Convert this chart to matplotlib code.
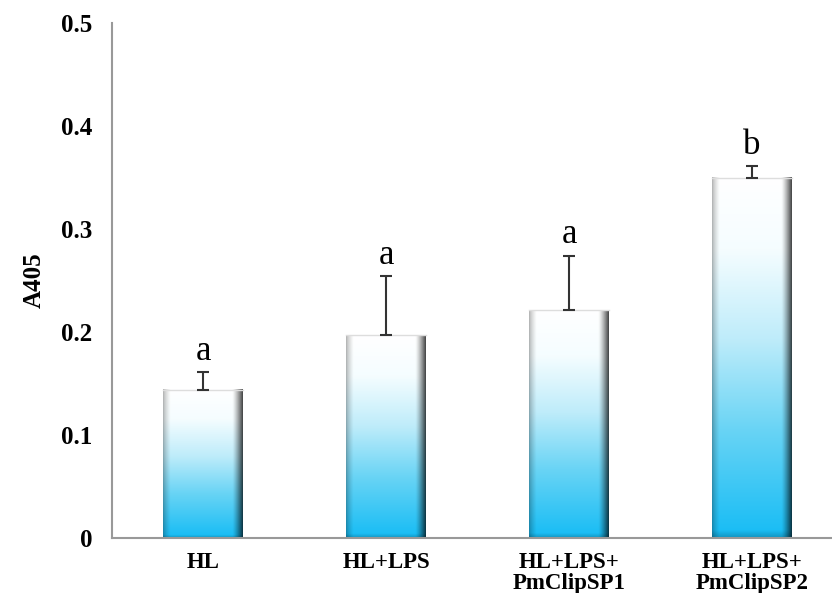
import numpy as np
import matplotlib.pyplot as plt

groups = ["HL", "HL+LPS", "HL+LPS+\nPmClipSP1", "HL+LPS+\nPmClipSP2"]
means = [0.144, 0.197, 0.221, 0.350]
errs = [0.017, 0.057, 0.053, 0.011]
letters = ["a", "a", "a", "b"]

plt.rcParams['font.family'] = ['Liberation Serif', 'DejaVu Serif']

fig = plt.figure(figsize=(8.32, 5.93), dpi=100)
# axes runs a bit past the right edge, like the original
ax = fig.add_axes([112/832, 1 - 538/593, (843.5 - 112)/832, (538 - 23)/593])

x = np.arange(len(groups))
w = 0.437

# gradient image used to fill each bar
ny, nx = 240, 120
t = np.linspace(0, 1, ny)[:, None]           # 0 bottom, 1 top
stops = np.array([0.0, 0.3, 0.55, 0.8, 1.0])
cols = np.array([[22, 188, 244], [105, 212, 245], [190, 236, 250], [245, 253, 255], [255, 255, 255]]) / 255.0
img = np.zeros((ny, nx, 3))
for c in range(3):
    img[:, :, c] = np.interp(t, stops, cols[:, c]) * np.ones((1, nx))
u = np.linspace(0, 1, nx)[None, :]
shade = np.ones((1, nx))
shade = np.where(u < 0.09, 0.7 + 0.3 * (u / 0.09) ** 0.7, shade)
shade = np.where(u > 0.87, 1 - 0.72 * ((u - 0.87) / 0.13) ** 1.3, shade)
img = img * shade[:, :, None]
# soft bevel at the bottom
vb = np.clip(t / 0.02, 0, 1)
img = img * (0.8 + 0.2 * vb[:, :, None])
img = img[::-1]  # imshow origin upper
img = np.clip(img, 0, 1)

for xi, m in zip(x, means):
    ax.imshow(img, extent=(xi - w/2, xi + w/2, 0, m), aspect='auto', zorder=2, interpolation='bilinear')
    ax.plot([xi - w/2, xi + w/2], [m, m], color='#dddddd', lw=1, zorder=2.5)

ax.errorbar(x, means, yerr=[np.zeros(len(errs)), errs], fmt='none', ecolor='#333333',
            elinewidth=1.5, capsize=4, capthick=1.5, zorder=3)

for xi, m, e, lab in zip(x, means, errs, letters):
    ax.text(xi, m + e + 0.012, lab, ha='center', va='baseline', fontsize=25)

ax.set_xlim(-0.5, 3.5)
ax.set_ylim(0, 0.5)
ax.set_yticks([0, 0.1, 0.2, 0.3, 0.4, 0.5])
ax.set_yticklabels(["0", "0.1", "0.2", "0.3", "0.4", "0.5"], fontweight='bold', fontsize=18)
ax.set_xticks(x)
ax.set_xticklabels(groups, fontweight='bold', fontsize=16.5, linespacing=1.0)
ax.tick_params(axis='y', length=0, pad=14)
ax.tick_params(axis='x', length=0, pad=10)
ax.set_ylabel("A405", fontweight='bold', fontsize=18, labelpad=11)

for s in ['top', 'right']:
    ax.spines[s].set_visible(False)
for s in ['left', 'bottom']:
    ax.spines[s].set_color('#999999')
    ax.spines[s].set_linewidth(1.5)

plt.savefig("out.png", dpi=100)
